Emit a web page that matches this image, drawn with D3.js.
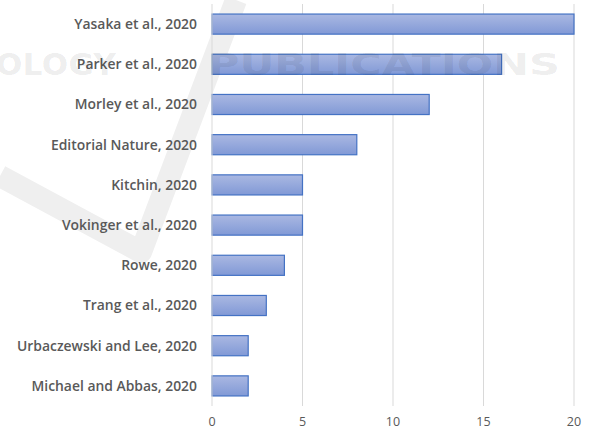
<!DOCTYPE html>
<html><head><meta charset="utf-8">
<script src="https://cdn.jsdelivr.net/npm/d3@7"></script>
<style>body{margin:0;background:#fff;}svg{display:block;}</style>
</head><body>
<svg id="chart" width="590" height="429"></svg>
<script>
const categories = ["Yasaka et al., 2020","Parker et al., 2020","Morley et al., 2020","Editorial Nature, 2020","Kitchin, 2020","Vokinger et al., 2020","Rowe, 2020","Trang et al., 2020","Urbaczewski and Lee, 2020","Michael and Abbas, 2020"];
const values = [20,16,12,8,5,5,4,3,2,2];
const xTicks = [0,5,10,15,20];

const svg = d3.select("#chart");
const pLeft = 212, pRight = 574, pTop = 4, pBottom = 406;
const x = d3.scaleLinear().domain([0,20]).range([pLeft,pRight]);
const y = d3.scaleBand().domain(categories).range([pTop,pBottom]).paddingInner(0.5).paddingOuter(0.25);

const defs = svg.append("defs");
const g = defs.append("linearGradient").attr("id","barg").attr("x1",0).attr("y1",0).attr("x2",0).attr("y2",1);
g.append("stop").attr("offset","0%").attr("stop-color","#aab8e2");
g.append("stop").attr("offset","100%").attr("stop-color","#8199d6");

// watermark check shape (behind)
svg.append("path").attr("d","M0,176 L141,252 L236,0")
  .attr("fill","none").attr("stroke","#efefef").attr("stroke-width",22).attr("stroke-linejoin","round");

// gridlines
svg.append("g").selectAll("line").data(xTicks.slice(1)).join("line")
  .attr("x1",d=>x(d)).attr("x2",d=>x(d)).attr("y1",pTop).attr("y2",pBottom)
  .attr("stroke","#d9d9d9").attr("stroke-width",1);

// bars
svg.append("g").selectAll("rect").data(values).join("rect")
  .attr("x",x(0)).attr("y",(d,i)=>y(categories[i]))
  .attr("width",d=>x(d)-x(0)).attr("height",y.bandwidth())
  .attr("fill","url(#barg)").attr("stroke","#4472c4").attr("stroke-width",1.2);

// axis line
svg.append("line").attr("x1",x(0)).attr("x2",x(0)).attr("y1",pTop).attr("y2",pBottom)
  .attr("stroke","#d9d9d9").attr("stroke-width",1);

// category labels
svg.append("g").selectAll("text").data(categories).join("text")
  .attr("x",197).attr("y",d=>y(d)+y.bandwidth()/2).attr("dy","0.35em")
  .attr("text-anchor","end").attr("fill","#595959")
  .attr("font-family","'Open Sans', sans-serif").attr("font-weight",600).attr("font-size","13.9px")
  .text(d=>d);

// x tick labels
svg.append("g").selectAll("text").data(xTicks).join("text")
  .attr("x",d=>x(d)).attr("y",422).attr("dy","0.35em")
  .attr("text-anchor","middle").attr("fill","#595959")
  .attr("font-family","'Open Sans', sans-serif").attr("font-size","12.5px")
  .text(d=>d);

// watermark text (on top, faint)
const wm = svg.append("g").attr("font-family","'DejaVu Sans', sans-serif").attr("font-weight","bold")
  .attr("font-size","31px").attr("fill","#000").attr("fill-opacity",0.085);
wm.append("text").attr("x",-4).attr("y",75).attr("textLength",120).attr("lengthAdjust","spacing").text("OLOGY");
wm.append("text").attr("x",208).attr("y",75).attr("textLength",352).attr("lengthAdjust","spacingAndGlyphs").text("PUBLICATIONS");
</script>
</body></html>
